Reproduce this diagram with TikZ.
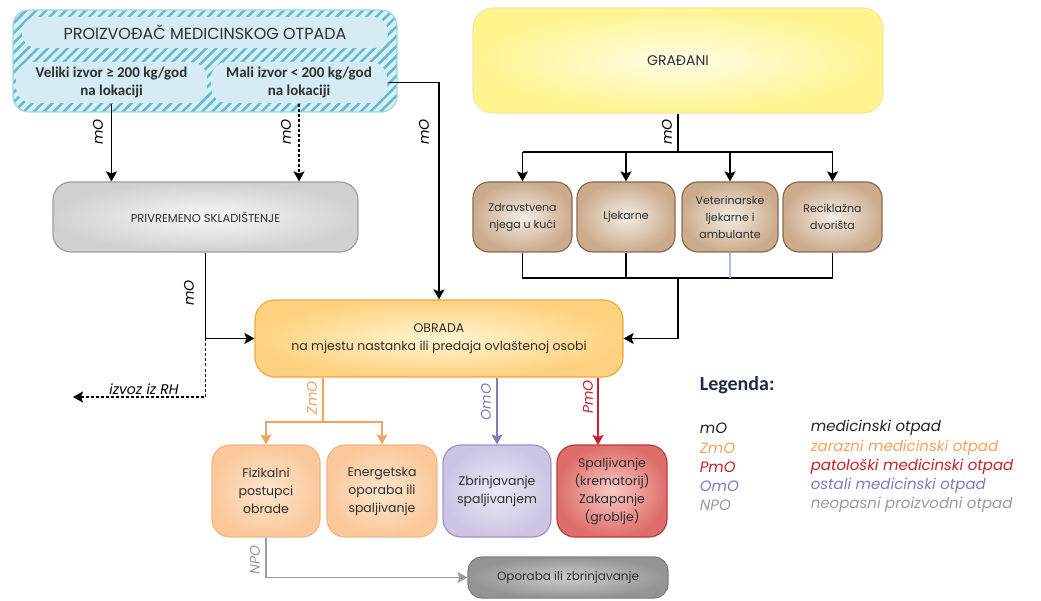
\documentclass[tikz,border=0pt]{standalone}
\usepackage{fontspec}
\setmainfont{Poppins}
\newfontfamily\calibri{Carlito}
\usetikzlibrary{arrows.meta,patterns.meta,positioning,shadings}

\definecolor{hatchblue}{HTML}{5DBCD2}
\definecolor{paleblue}{HTML}{DCEFF6}
\definecolor{pillblue}{HTML}{D6ECF4}
\definecolor{textgray}{HTML}{2E2E2E}
\definecolor{obradaline}{HTML}{F4A53C}
\definecolor{obradain}{HTML}{FFF5D2}
\definecolor{obradaout}{HTML}{FFD27F}
\definecolor{yellowin}{HTML}{FFFDE6}
\definecolor{yellowout}{HTML}{FFF48E}
\definecolor{yellowline}{HTML}{F5E8A6}
\definecolor{brownin}{HTML}{F4EDE6}
\definecolor{brownout}{HTML}{CBAB8C}
\definecolor{brownline}{HTML}{8C6B4F}
\definecolor{orangein}{HTML}{FDE5CF}
\definecolor{orangeout}{HTML}{FBC89B}
\definecolor{orangeline}{HTML}{F6B483}
\definecolor{purplein}{HTML}{EDE9F6}
\definecolor{purpleout}{HTML}{CDC4E4}
\definecolor{purpleline}{HTML}{9F92C9}
\definecolor{redin}{HTML}{F8CAC4}
\definecolor{redout}{HTML}{DE6E6B}
\definecolor{redline}{HTML}{C0393B}
\definecolor{zmocol}{HTML}{F5A25E}
\definecolor{omocol}{HTML}{8878BE}
\definecolor{pmocol}{HTML}{C8202A}
\definecolor{npocol}{HTML}{9A9A9A}
\definecolor{vetblue}{HTML}{9DC3E6}
\definecolor{legnavy}{HTML}{1F2A44}
\definecolor{modark}{HTML}{1C2A1C}

\begin{document}
\begin{tikzpicture}[x=1pt, y=-1pt,
    box/.style={rectangle, rounded corners=14pt, line width=1.2pt, align=center, text=textgray, inner sep=2pt},
    arr/.style={-{Stealth[length=10pt,width=11pt,inset=2pt]}},
    lbl/.style={rotate=90, font=\fontsize{14}{14}\selectfont\itshape, inner sep=1pt},
    leg/.style={anchor=west, font=\fontsize{15}{15}\selectfont\itshape, inner sep=0pt},
    line width=1.6pt]
    \useasboundingbox (0,0) rectangle (1041,601);

    % Producer of medical waste
    \node[box, rounded corners=16pt, draw=hatchblue!60, minimum width=384pt, minimum height=102pt,
          preaction={fill=paleblue}, pattern={Lines[angle=45,distance=7pt,line width=2.5pt]},
          pattern color=hatchblue] (prod) at (205,61) {};
    \node[box, fill=pillblue, rounded corners=15pt, minimum width=366pt, minimum height=31pt,
          font=\fontsize{16}{18}\selectfont] (title) at (205,32.5) {PROIZVOĐAČ MEDICINSKOG OTPADA};
    \node[box, fill=pillblue, rounded corners=16pt, minimum width=191pt, minimum height=41pt,
          font=\calibri\bfseries\fontsize{15}{18}\selectfont] (veliki) at (111.5,82.5) {Veliki izvor ≥ 200 kg/god\\na lokaciji};
    \node[box, fill=pillblue, rounded corners=16pt, minimum width=176pt, minimum height=41pt,
          font=\calibri\bfseries\fontsize{15}{18}\selectfont] (mali) at (299,82.5) {Mali izvor < 200 kg/god\\na lokaciji};

    % Storage and treatment
    \node[box, draw=black!38, inner color=black!3, outer color=black!18, rounded corners=18pt,
          minimum width=305pt, minimum height=70pt, font=\fontsize{11.5}{13}\selectfont] (skl) at (205.5,217) {PRIVREMENO SKLADIŠTENJE};
    \node[box, draw=obradaline, inner color=obradain, outer color=obradaout, rounded corners=20pt,
          minimum width=368pt, minimum height=77pt, font=\fontsize{12.5}{18}\selectfont] (obrada) at (439,338.5)
          {OBRADA\\na mjestu nastanka ili predaja ovlaštenoj osobi};

    % Citizens
    \node[box, draw=yellowline, inner color=yellowin, outer color=yellowout, rounded corners=20pt,
          minimum width=410pt, minimum height=105pt, font=\fontsize{14}{16}\selectfont] (gradjani) at (678,60.5) {GRAĐANI};
    \node[box, draw=brownline, inner color=brownin, outer color=brownout, rounded corners=16pt,
          minimum width=99pt, minimum height=70pt, font=\fontsize{11}{17}\selectfont] (zdr) at (522.5,217) {Zdravstvena\\njega u kući};
    \node[box, draw=brownline, inner color=brownin, outer color=brownout, rounded corners=16pt,
          minimum width=98pt, minimum height=70pt, font=\fontsize{11}{17}\selectfont] (lje) at (626,217) {Ljekarne};
    \node[box, draw=brownline, inner color=brownin, outer color=brownout, rounded corners=16pt,
          minimum width=96pt, minimum height=70pt, font=\fontsize{11}{17}\selectfont] (vet) at (730,217) {Veterinarske\\ljekarne i\\ambulante};
    \node[box, draw=brownline, inner color=brownin, outer color=brownout, rounded corners=16pt,
          minimum width=99pt, minimum height=70pt, font=\fontsize{11}{17}\selectfont] (rec) at (832.5,217) {Reciklažna\\dvorišta};

    % Final treatment
    \node[box, draw=orangeline, inner color=orangein, outer color=orangeout, rounded corners=18pt,
          minimum width=108pt, minimum height=92pt, font=\fontsize{12.5}{18}\selectfont] (fiz) at (266,491) {Fizikalni\\postupci\\obrade};
    \node[box, draw=orangeline, inner color=orangein, outer color=orangeout, rounded corners=18pt,
          minimum width=110pt, minimum height=92pt, font=\fontsize{12.5}{18}\selectfont] (ene) at (382,491) {Energetska\\oporaba ili\\spaljivanje};
    \node[box, draw=purpleline, inner color=purplein, outer color=purpleout, rounded corners=18pt,
          minimum width=108pt, minimum height=92pt, font=\fontsize{12.5}{18}\selectfont] (zbr) at (497,491) {Zbrinjavanje\\spaljivanjem};
    \node[box, draw=redline, inner color=redin, outer color=redout, rounded corners=18pt,
          minimum width=110pt, minimum height=92pt, font=\fontsize{12.5}{18}\selectfont] (spa) at (612,491) {Spaljivanje\\(krematorij)\\Zakapanje\\(groblje)};
    \node[box, draw=black!50, inner color=black!20, outer color=black!42, rounded corners=14pt,
          minimum width=200pt, minimum height=41pt, font=\fontsize{12}{14}\selectfont] (oporaba) at (568,577.5) {Oporaba ili zbrinjavanje};

    % Connectors from producer
    \draw[arr] (veliki.south) -- (veliki.south |- skl.north);
    \draw[arr, dash pattern=on 3pt off 2pt] (mali.south) -- (mali.south |- skl.north);
    \draw[arr] (mali.east) -| (obrada.north);
    \coordinate (split) at (skl.south |- obrada.west);
    \coordinate (izvoz) at (73,397);
    \draw[arr] (skl.south) |- (obrada.west);
    \draw[arr, dash pattern=on 3pt off 2pt] (split) |- (izvoz);

    % Connectors from citizens
    \coordinate (gtop) at (678,152);
    \coordinate (gbot) at (678,278);
    \draw (gradjani.south) -- (gtop);
    \draw (zdr.north |- gtop) -- (rec.north |- gtop);
    \foreach \n in {zdr,lje,vet,rec}
        \draw[arr] (\n.north |- gtop) -- (\n.north);
    \draw (zdr.south) -- (zdr.south |- gbot) -- (rec.south |- gbot) -- (rec.south);
    \draw (lje.south) -- (lje.south |- gbot);
    \draw[vetblue, line width=1.2pt] (vet.south) -- (vet.south |- gbot);
    \draw[arr] (gbot) |- (obrada.east);

    % Connectors after treatment
    \coordinate (zsplit) at (323,422);
    \coordinate (pmo) at (598,445);
    \draw[zmocol] (obrada.south -| zsplit) -- (zsplit);
    \draw[arr, zmocol] (zsplit) -| (fiz.north);
    \draw[arr, zmocol] (zsplit) -| (ene.north);
    \draw[arr, omocol] (obrada.south -| zbr.north) -- (zbr.north);
    \draw[arr, pmocol] (obrada.south -| pmo) -- (pmo);
    \draw[arr, npocol] (fiz.south) |- (oporaba.west);

    % Flow labels
    \node[lbl] (lmo1) at (98,132) {mO};
    \node[lbl] (lmo2) at (286,132) {mO};
    \node[lbl] (lmo3) at (424,132) {mO};
    \node[lbl] (lmo4) at (667,132) {mO};
    \node[lbl] (lmo5) at (189,293) {mO};
    \node[lbl, text=zmocol] (lzmo) at (312,398) {ZmO};
    \node[lbl, text=omocol] (lomo) at (486,402) {OmO};
    \node[lbl, text=pmocol] (lpmo) at (588,397) {PmO};
    \node[lbl, text=npocol] (lnpo) at (255,560) {NPO};
    \node[font=\fontsize{14}{14}\selectfont\itshape, anchor=south, inner sep=1pt] (lizvoz) at (144,396) {izvoz iz RH};

    % Legend
    \node[anchor=west, inner sep=0pt, font=\calibri\bfseries\fontsize{20}{20}\selectfont, text=legnavy] (legend) at (699,385) {Legenda:};
    \node[leg, text=modark] (kmo) at (699,428) {mO};
    \node[leg, text=zmocol] (kzmo) at (699,448) {ZmO};
    \node[leg, text=pmocol] (kpmo) at (699,467) {PmO};
    \node[leg, text=omocol] (komo) at (699,486) {OmO};
    \node[leg, text=npocol] (knpo) at (699,505) {NPO};
    \node[leg, text=modark] (dmo) at (810,428) {medicinski otpad};
    \node[leg, text=zmocol] (dzmo) at (810,448) {zarazni medicinski otpad};
    \node[leg, text=pmocol] (dpmo) at (810,467) {patološki medicinski otpad};
    \node[leg, text=omocol] (domo) at (810,486) {ostali medicinski otpad};
    \node[leg, text=npocol] (dnpo) at (810,505) {neopasni proizvodni otpad};
\end{tikzpicture}
\end{document}
